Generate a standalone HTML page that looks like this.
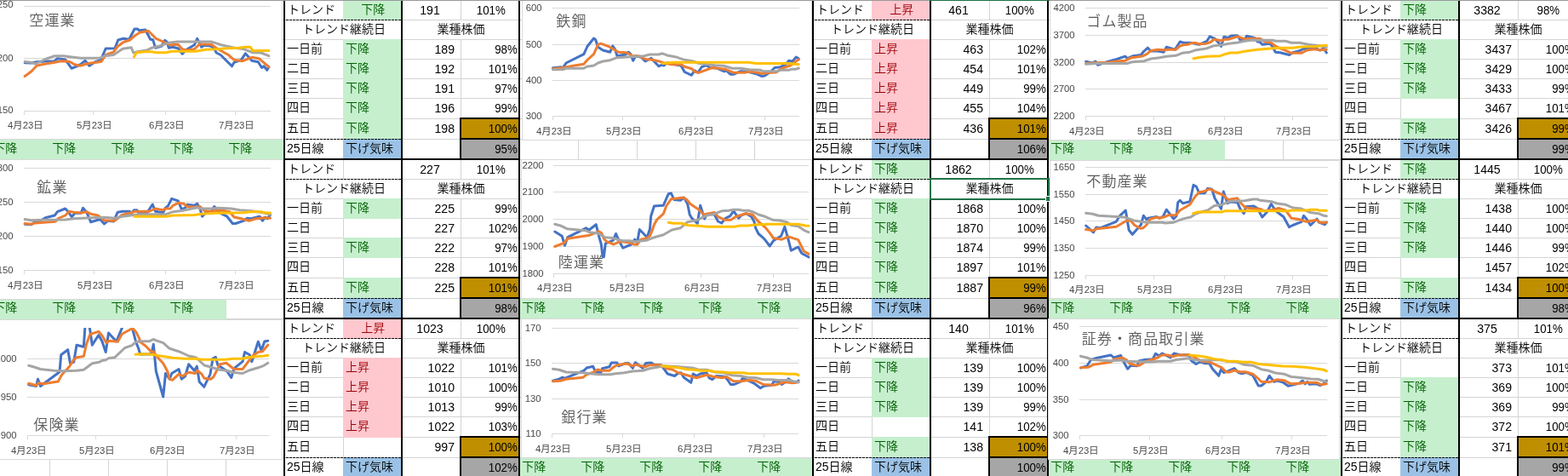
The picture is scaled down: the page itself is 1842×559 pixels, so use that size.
<!DOCTYPE html>
<html lang="ja"><head><meta charset="utf-8"><title>業種別トレンド</title>
<style>
html,body{margin:0;padding:0;background:#fff;overflow:hidden}
svg{display:block}
text{font-family:"Liberation Sans","Noto Sans CJK JP",sans-serif;white-space:pre}
.c{font-weight:350}
.h{font-weight:400}
.n{font-weight:400}
.t{font-weight:350;letter-spacing:1.1px}
</style></head><body>
<svg width="1842" height="559" viewBox="0 0 1842 559">
<g shape-rendering="crispEdges">
<rect x="0" y="0" width="1842" height="559" fill="#fff"/>
<rect x="58" y="0" width="1" height="559" fill="#d4d4d4"/>
<rect x="127" y="0" width="1" height="559" fill="#d4d4d4"/>
<rect x="196" y="0" width="1" height="559" fill="#d4d4d4"/>
<rect x="265" y="0" width="1" height="559" fill="#d4d4d4"/>
<rect x="334" y="0" width="1" height="559" fill="#d4d4d4"/>
<rect x="403" y="0" width="1" height="559" fill="#d4d4d4"/>
<rect x="472" y="0" width="1" height="559" fill="#d4d4d4"/>
<rect x="541" y="0" width="1" height="559" fill="#d4d4d4"/>
<rect x="610" y="0" width="1" height="559" fill="#d4d4d4"/>
<rect x="679" y="0" width="1" height="559" fill="#d4d4d4"/>
<rect x="748" y="0" width="1" height="559" fill="#d4d4d4"/>
<rect x="817" y="0" width="1" height="559" fill="#d4d4d4"/>
<rect x="886" y="0" width="1" height="559" fill="#d4d4d4"/>
<rect x="955" y="0" width="1" height="559" fill="#d4d4d4"/>
<rect x="1024" y="0" width="1" height="559" fill="#d4d4d4"/>
<rect x="1093" y="0" width="1" height="559" fill="#d4d4d4"/>
<rect x="1162" y="0" width="1" height="559" fill="#d4d4d4"/>
<rect x="1231" y="0" width="1" height="559" fill="#d4d4d4"/>
<rect x="1300" y="0" width="1" height="559" fill="#d4d4d4"/>
<rect x="1369" y="0" width="1" height="559" fill="#d4d4d4"/>
<rect x="1438" y="0" width="1" height="559" fill="#d4d4d4"/>
<rect x="1507" y="0" width="1" height="559" fill="#d4d4d4"/>
<rect x="1576" y="0" width="1" height="559" fill="#d4d4d4"/>
<rect x="1645" y="0" width="1" height="559" fill="#d4d4d4"/>
<rect x="1714" y="0" width="1" height="559" fill="#d4d4d4"/>
<rect x="1783" y="0" width="1" height="559" fill="#d4d4d4"/>
<rect x="0" y="23" width="1842" height="1" fill="#d4d4d4"/>
<rect x="0" y="46" width="1842" height="1" fill="#d4d4d4"/>
<rect x="0" y="69" width="1842" height="1" fill="#d4d4d4"/>
<rect x="0" y="92" width="1842" height="1" fill="#d4d4d4"/>
<rect x="0" y="115" width="1842" height="1" fill="#d4d4d4"/>
<rect x="0" y="139" width="1842" height="1" fill="#d4d4d4"/>
<rect x="0" y="163" width="1842" height="1" fill="#d4d4d4"/>
<rect x="0" y="187" width="1842" height="1" fill="#d4d4d4"/>
<rect x="0" y="210" width="1842" height="1" fill="#d4d4d4"/>
<rect x="0" y="233" width="1842" height="1" fill="#d4d4d4"/>
<rect x="0" y="256" width="1842" height="1" fill="#d4d4d4"/>
<rect x="0" y="279" width="1842" height="1" fill="#d4d4d4"/>
<rect x="0" y="302" width="1842" height="1" fill="#d4d4d4"/>
<rect x="0" y="326" width="1842" height="1" fill="#d4d4d4"/>
<rect x="0" y="350" width="1842" height="1" fill="#d4d4d4"/>
<rect x="0" y="374" width="1842" height="1" fill="#d4d4d4"/>
<rect x="0" y="397" width="1842" height="1" fill="#d4d4d4"/>
<rect x="0" y="420" width="1842" height="1" fill="#d4d4d4"/>
<rect x="0" y="443" width="1842" height="1" fill="#d4d4d4"/>
<rect x="0" y="466" width="1842" height="1" fill="#d4d4d4"/>
<rect x="0" y="489" width="1842" height="1" fill="#d4d4d4"/>
<rect x="0" y="513" width="1842" height="1" fill="#d4d4d4"/>
<rect x="0" y="537" width="1842" height="1" fill="#d4d4d4"/>
<rect x="0" y="0" width="1842" height="1" fill="#a6a6a6"/>
</g>
<g shape-rendering="crispEdges">
<rect x="-11" y="163" width="70" height="25" fill="#c6efce"/>
<rect x="58" y="163" width="70" height="25" fill="#c6efce"/>
<rect x="127" y="163" width="70" height="25" fill="#c6efce"/>
<rect x="196" y="163" width="70" height="25" fill="#c6efce"/>
<rect x="265" y="163" width="70" height="25" fill="#c6efce"/>
<rect x="1231" y="163" width="70" height="25" fill="#c6efce"/>
<rect x="1300" y="163" width="70" height="25" fill="#c6efce"/>
<rect x="1369" y="163" width="70" height="25" fill="#c6efce"/>
<rect x="-11" y="350" width="70" height="25" fill="#c6efce"/>
<rect x="58" y="350" width="70" height="25" fill="#c6efce"/>
<rect x="127" y="350" width="70" height="25" fill="#c6efce"/>
<rect x="196" y="350" width="70" height="25" fill="#c6efce"/>
<rect x="610" y="350" width="70" height="25" fill="#c6efce"/>
<rect x="679" y="350" width="70" height="25" fill="#c6efce"/>
<rect x="748" y="350" width="70" height="25" fill="#c6efce"/>
<rect x="817" y="350" width="70" height="25" fill="#c6efce"/>
<rect x="886" y="350" width="70" height="25" fill="#c6efce"/>
<rect x="1231" y="350" width="70" height="25" fill="#c6efce"/>
<rect x="1300" y="350" width="70" height="25" fill="#c6efce"/>
<rect x="1369" y="350" width="70" height="25" fill="#c6efce"/>
<rect x="1438" y="350" width="70" height="25" fill="#c6efce"/>
<rect x="1507" y="350" width="70" height="25" fill="#c6efce"/>
<rect x="610" y="537" width="70" height="25" fill="#c6efce"/>
<rect x="679" y="537" width="70" height="25" fill="#c6efce"/>
<rect x="748" y="537" width="70" height="25" fill="#c6efce"/>
<rect x="817" y="537" width="70" height="25" fill="#c6efce"/>
<rect x="886" y="537" width="70" height="25" fill="#c6efce"/>
<rect x="1231" y="537" width="70" height="25" fill="#c6efce"/>
<rect x="1300" y="537" width="70" height="25" fill="#c6efce"/>
<rect x="1369" y="537" width="70" height="25" fill="#c6efce"/>
<rect x="1438" y="537" width="70" height="25" fill="#c6efce"/>
<rect x="1507" y="537" width="70" height="25" fill="#c6efce"/>
</g>
<text class="c" x="-7.8" y="179.0" fill="#006100" font-size="14">下降</text>
<text class="c" x="61.2" y="179.0" fill="#006100" font-size="14">下降</text>
<text class="c" x="130.2" y="179.0" fill="#006100" font-size="14">下降</text>
<text class="c" x="199.2" y="179.0" fill="#006100" font-size="14">下降</text>
<text class="c" x="268.2" y="179.0" fill="#006100" font-size="14">下降</text>
<text class="c" x="1234.2" y="179.0" fill="#006100" font-size="14">下降</text>
<text class="c" x="1303.2" y="179.0" fill="#006100" font-size="14">下降</text>
<text class="c" x="1372.2" y="179.0" fill="#006100" font-size="14">下降</text>
<text class="c" x="-7.8" y="366.0" fill="#006100" font-size="14">下降</text>
<text class="c" x="61.2" y="366.0" fill="#006100" font-size="14">下降</text>
<text class="c" x="130.2" y="366.0" fill="#006100" font-size="14">下降</text>
<text class="c" x="199.2" y="366.0" fill="#006100" font-size="14">下降</text>
<text class="c" x="613.2" y="366.0" fill="#006100" font-size="14">下降</text>
<text class="c" x="682.2" y="366.0" fill="#006100" font-size="14">下降</text>
<text class="c" x="751.2" y="366.0" fill="#006100" font-size="14">下降</text>
<text class="c" x="820.2" y="366.0" fill="#006100" font-size="14">下降</text>
<text class="c" x="889.2" y="366.0" fill="#006100" font-size="14">下降</text>
<text class="c" x="1234.2" y="366.0" fill="#006100" font-size="14">下降</text>
<text class="c" x="1303.2" y="366.0" fill="#006100" font-size="14">下降</text>
<text class="c" x="1372.2" y="366.0" fill="#006100" font-size="14">下降</text>
<text class="c" x="1441.2" y="366.0" fill="#006100" font-size="14">下降</text>
<text class="c" x="1510.2" y="366.0" fill="#006100" font-size="14">下降</text>
<text class="c" x="613.2" y="553.0" fill="#006100" font-size="14">下降</text>
<text class="c" x="682.2" y="553.0" fill="#006100" font-size="14">下降</text>
<text class="c" x="751.2" y="553.0" fill="#006100" font-size="14">下降</text>
<text class="c" x="820.2" y="553.0" fill="#006100" font-size="14">下降</text>
<text class="c" x="889.2" y="553.0" fill="#006100" font-size="14">下降</text>
<text class="c" x="1234.2" y="553.0" fill="#006100" font-size="14">下降</text>
<text class="c" x="1303.2" y="553.0" fill="#006100" font-size="14">下降</text>
<text class="c" x="1372.2" y="553.0" fill="#006100" font-size="14">下降</text>
<text class="c" x="1441.2" y="553.0" fill="#006100" font-size="14">下降</text>
<text class="c" x="1510.2" y="553.0" fill="#006100" font-size="14">下降</text>
<g shape-rendering="crispEdges">
<rect x="403" y="1" width="68" height="23" fill="#c6efce"/>
<rect x="403" y="46" width="68" height="24" fill="#c6efce"/>
<rect x="403" y="69" width="68" height="24" fill="#c6efce"/>
<rect x="403" y="92" width="68" height="24" fill="#c6efce"/>
<rect x="403" y="115" width="68" height="25" fill="#c6efce"/>
<rect x="403" y="139" width="68" height="25" fill="#c6efce"/>
<rect x="403" y="163" width="68" height="25" fill="#9bc2e6"/>
<rect x="403" y="24" width="1" height="22" fill="#fff"/>
<rect x="541" y="24" width="1" height="22" fill="#fff"/>
<rect x="541" y="139" width="69" height="24" fill="#bf8f00"/>
<rect x="541" y="163" width="69" height="24" fill="#a6a6a6"/>
<rect x="540" y="138" width="70" height="2" fill="#000"/>
<rect x="540" y="162" width="70" height="2" fill="#000"/>
<rect x="540" y="138" width="2" height="50" fill="#000"/>
</g>
<line x1="336" y1="23.5" x2="471" y2="23.5" stroke="#000" stroke-width="1" stroke-dasharray="3 1" shape-rendering="crispEdges"/>
<line x1="336" y1="163.5" x2="471" y2="163.5" stroke="#000" stroke-width="1" stroke-dasharray="3 1" shape-rendering="crispEdges"/>
<g shape-rendering="crispEdges">
<rect x="1024" y="1" width="68" height="23" fill="#ffc7ce"/>
<rect x="1024" y="46" width="68" height="24" fill="#ffc7ce"/>
<rect x="1024" y="69" width="68" height="24" fill="#ffc7ce"/>
<rect x="1024" y="92" width="68" height="24" fill="#ffc7ce"/>
<rect x="1024" y="115" width="68" height="25" fill="#ffc7ce"/>
<rect x="1024" y="139" width="68" height="25" fill="#ffc7ce"/>
<rect x="1024" y="163" width="68" height="25" fill="#9bc2e6"/>
<rect x="1024" y="24" width="1" height="22" fill="#fff"/>
<rect x="1162" y="24" width="1" height="22" fill="#fff"/>
<rect x="1162" y="139" width="69" height="24" fill="#bf8f00"/>
<rect x="1162" y="163" width="69" height="24" fill="#a6a6a6"/>
<rect x="1161" y="138" width="70" height="2" fill="#000"/>
<rect x="1161" y="162" width="70" height="2" fill="#000"/>
<rect x="1161" y="138" width="2" height="50" fill="#000"/>
</g>
<line x1="957" y1="23.5" x2="1092" y2="23.5" stroke="#000" stroke-width="1" stroke-dasharray="3 1" shape-rendering="crispEdges"/>
<line x1="957" y1="163.5" x2="1092" y2="163.5" stroke="#000" stroke-width="1" stroke-dasharray="3 1" shape-rendering="crispEdges"/>
<g shape-rendering="crispEdges">
<rect x="1645" y="1" width="68" height="23" fill="#c6efce"/>
<rect x="1645" y="46" width="68" height="24" fill="#c6efce"/>
<rect x="1645" y="69" width="68" height="24" fill="#c6efce"/>
<rect x="1645" y="92" width="68" height="24" fill="#c6efce"/>
<rect x="1645" y="139" width="68" height="25" fill="#c6efce"/>
<rect x="1645" y="163" width="68" height="25" fill="#9bc2e6"/>
<rect x="1645" y="24" width="1" height="22" fill="#fff"/>
<rect x="1783" y="24" width="1" height="22" fill="#fff"/>
<rect x="1783" y="139" width="69" height="24" fill="#bf8f00"/>
<rect x="1783" y="163" width="69" height="24" fill="#a6a6a6"/>
<rect x="1782" y="138" width="70" height="2" fill="#000"/>
<rect x="1782" y="162" width="70" height="2" fill="#000"/>
<rect x="1782" y="138" width="2" height="50" fill="#000"/>
</g>
<line x1="1578" y1="23.5" x2="1713" y2="23.5" stroke="#000" stroke-width="1" stroke-dasharray="3 1" shape-rendering="crispEdges"/>
<line x1="1578" y1="163.5" x2="1713" y2="163.5" stroke="#000" stroke-width="1" stroke-dasharray="3 1" shape-rendering="crispEdges"/>
<g shape-rendering="crispEdges">
<rect x="403" y="233" width="68" height="24" fill="#c6efce"/>
<rect x="403" y="279" width="68" height="24" fill="#c6efce"/>
<rect x="403" y="326" width="68" height="25" fill="#c6efce"/>
<rect x="403" y="350" width="68" height="25" fill="#9bc2e6"/>
<rect x="403" y="211" width="1" height="22" fill="#fff"/>
<rect x="541" y="211" width="1" height="22" fill="#fff"/>
<rect x="541" y="326" width="69" height="24" fill="#bf8f00"/>
<rect x="541" y="350" width="69" height="24" fill="#a6a6a6"/>
<rect x="540" y="325" width="70" height="2" fill="#000"/>
<rect x="540" y="349" width="70" height="2" fill="#000"/>
<rect x="540" y="325" width="2" height="50" fill="#000"/>
</g>
<line x1="336" y1="210.5" x2="471" y2="210.5" stroke="#000" stroke-width="1" stroke-dasharray="3 1" shape-rendering="crispEdges"/>
<line x1="336" y1="350.5" x2="471" y2="350.5" stroke="#000" stroke-width="1" stroke-dasharray="3 1" shape-rendering="crispEdges"/>
<g shape-rendering="crispEdges">
<rect x="1024" y="188" width="68" height="23" fill="#c6efce"/>
<rect x="1024" y="233" width="68" height="24" fill="#c6efce"/>
<rect x="1024" y="256" width="68" height="24" fill="#c6efce"/>
<rect x="1024" y="279" width="68" height="24" fill="#c6efce"/>
<rect x="1024" y="302" width="68" height="25" fill="#c6efce"/>
<rect x="1024" y="326" width="68" height="25" fill="#c6efce"/>
<rect x="1024" y="350" width="68" height="25" fill="#9bc2e6"/>
<rect x="1024" y="211" width="1" height="22" fill="#fff"/>
<rect x="1162" y="211" width="1" height="22" fill="#fff"/>
<rect x="1162" y="326" width="69" height="24" fill="#bf8f00"/>
<rect x="1162" y="350" width="69" height="24" fill="#a6a6a6"/>
<rect x="1161" y="325" width="70" height="2" fill="#000"/>
<rect x="1161" y="349" width="70" height="2" fill="#000"/>
<rect x="1161" y="325" width="2" height="50" fill="#000"/>
</g>
<line x1="957" y1="210.5" x2="1092" y2="210.5" stroke="#000" stroke-width="1" stroke-dasharray="3 1" shape-rendering="crispEdges"/>
<line x1="957" y1="350.5" x2="1092" y2="350.5" stroke="#000" stroke-width="1" stroke-dasharray="3 1" shape-rendering="crispEdges"/>
<g shape-rendering="crispEdges">
<rect x="1645" y="188" width="68" height="23" fill="#c6efce"/>
<rect x="1645" y="233" width="68" height="24" fill="#c6efce"/>
<rect x="1645" y="256" width="68" height="24" fill="#c6efce"/>
<rect x="1645" y="279" width="68" height="24" fill="#c6efce"/>
<rect x="1645" y="326" width="68" height="25" fill="#c6efce"/>
<rect x="1645" y="350" width="68" height="25" fill="#9bc2e6"/>
<rect x="1645" y="211" width="1" height="22" fill="#fff"/>
<rect x="1783" y="211" width="1" height="22" fill="#fff"/>
<rect x="1783" y="326" width="69" height="24" fill="#bf8f00"/>
<rect x="1783" y="350" width="69" height="24" fill="#a6a6a6"/>
<rect x="1782" y="325" width="70" height="2" fill="#000"/>
<rect x="1782" y="349" width="70" height="2" fill="#000"/>
<rect x="1782" y="325" width="2" height="50" fill="#000"/>
</g>
<line x1="1578" y1="210.5" x2="1713" y2="210.5" stroke="#000" stroke-width="1" stroke-dasharray="3 1" shape-rendering="crispEdges"/>
<line x1="1578" y1="350.5" x2="1713" y2="350.5" stroke="#000" stroke-width="1" stroke-dasharray="3 1" shape-rendering="crispEdges"/>
<g shape-rendering="crispEdges">
<rect x="403" y="375" width="68" height="23" fill="#ffc7ce"/>
<rect x="403" y="420" width="68" height="24" fill="#ffc7ce"/>
<rect x="403" y="443" width="68" height="24" fill="#ffc7ce"/>
<rect x="403" y="466" width="68" height="24" fill="#ffc7ce"/>
<rect x="403" y="489" width="68" height="25" fill="#ffc7ce"/>
<rect x="403" y="537" width="68" height="25" fill="#9bc2e6"/>
<rect x="403" y="398" width="1" height="22" fill="#fff"/>
<rect x="541" y="398" width="1" height="22" fill="#fff"/>
<rect x="541" y="513" width="69" height="24" fill="#bf8f00"/>
<rect x="541" y="537" width="69" height="24" fill="#a6a6a6"/>
<rect x="540" y="512" width="70" height="2" fill="#000"/>
<rect x="540" y="536" width="70" height="2" fill="#000"/>
<rect x="540" y="512" width="2" height="50" fill="#000"/>
</g>
<line x1="336" y1="397.5" x2="471" y2="397.5" stroke="#000" stroke-width="1" stroke-dasharray="3 1" shape-rendering="crispEdges"/>
<line x1="336" y1="537.5" x2="471" y2="537.5" stroke="#000" stroke-width="1" stroke-dasharray="3 1" shape-rendering="crispEdges"/>
<g shape-rendering="crispEdges">
<rect x="1024" y="420" width="68" height="24" fill="#c6efce"/>
<rect x="1024" y="443" width="68" height="24" fill="#c6efce"/>
<rect x="1024" y="466" width="68" height="24" fill="#c6efce"/>
<rect x="1024" y="513" width="68" height="25" fill="#c6efce"/>
<rect x="1024" y="537" width="68" height="25" fill="#9bc2e6"/>
<rect x="1024" y="398" width="1" height="22" fill="#fff"/>
<rect x="1162" y="398" width="1" height="22" fill="#fff"/>
<rect x="1162" y="513" width="69" height="24" fill="#bf8f00"/>
<rect x="1162" y="537" width="69" height="24" fill="#a6a6a6"/>
<rect x="1161" y="512" width="70" height="2" fill="#000"/>
<rect x="1161" y="536" width="70" height="2" fill="#000"/>
<rect x="1161" y="512" width="2" height="50" fill="#000"/>
</g>
<line x1="957" y1="397.5" x2="1092" y2="397.5" stroke="#000" stroke-width="1" stroke-dasharray="3 1" shape-rendering="crispEdges"/>
<line x1="957" y1="537.5" x2="1092" y2="537.5" stroke="#000" stroke-width="1" stroke-dasharray="3 1" shape-rendering="crispEdges"/>
<g shape-rendering="crispEdges">
<rect x="1645" y="443" width="68" height="24" fill="#c6efce"/>
<rect x="1645" y="466" width="68" height="24" fill="#c6efce"/>
<rect x="1645" y="489" width="68" height="25" fill="#c6efce"/>
<rect x="1645" y="513" width="68" height="25" fill="#c6efce"/>
<rect x="1645" y="537" width="68" height="25" fill="#9bc2e6"/>
<rect x="1645" y="398" width="1" height="22" fill="#fff"/>
<rect x="1783" y="398" width="1" height="22" fill="#fff"/>
<rect x="1783" y="513" width="69" height="24" fill="#bf8f00"/>
<rect x="1783" y="537" width="69" height="24" fill="#a6a6a6"/>
<rect x="1782" y="512" width="70" height="2" fill="#000"/>
<rect x="1782" y="536" width="70" height="2" fill="#000"/>
<rect x="1782" y="512" width="2" height="50" fill="#000"/>
</g>
<line x1="1578" y1="397.5" x2="1713" y2="397.5" stroke="#000" stroke-width="1" stroke-dasharray="3 1" shape-rendering="crispEdges"/>
<line x1="1578" y1="537.5" x2="1713" y2="537.5" stroke="#000" stroke-width="1" stroke-dasharray="3 1" shape-rendering="crispEdges"/>
<g shape-rendering="crispEdges">
<rect x="333" y="1" width="2" height="559" fill="#000"/>
<rect x="471" y="1" width="2" height="559" fill="#000"/>
<rect x="609" y="1" width="2" height="559" fill="#000"/>
<rect x="333" y="186" width="278" height="2" fill="#000"/>
<rect x="333" y="373" width="278" height="2" fill="#000"/>
<rect x="333" y="560" width="278" height="2" fill="#000"/>
<rect x="954" y="1" width="2" height="559" fill="#000"/>
<rect x="1092" y="1" width="2" height="559" fill="#000"/>
<rect x="1230" y="1" width="2" height="559" fill="#000"/>
<rect x="954" y="186" width="278" height="2" fill="#000"/>
<rect x="954" y="373" width="278" height="2" fill="#000"/>
<rect x="954" y="560" width="278" height="2" fill="#000"/>
<rect x="1575" y="1" width="2" height="559" fill="#000"/>
<rect x="1713" y="1" width="2" height="559" fill="#000"/>
<rect x="1851" y="1" width="2" height="559" fill="#000"/>
<rect x="1575" y="186" width="278" height="2" fill="#000"/>
<rect x="1575" y="373" width="278" height="2" fill="#000"/>
<rect x="1575" y="560" width="278" height="2" fill="#000"/>
</g>
<text class="c" x="338" y="15.8" fill="#000" font-size="14">トレンド</text>
<text class="c" x="438.2" y="15.8" text-anchor="middle" fill="#006100" font-size="14">下降</text>
<text class="n" transform="translate(505.0 16.7) scale(1.01 1.06)" text-anchor="middle" fill="#000" font-size="14">191</text>
<text class="n" transform="translate(576.8 16.7) scale(0.95 1.06)" text-anchor="middle" fill="#000" font-size="14">101%</text>
<text class="c" x="404.0" y="38.8" text-anchor="middle" fill="#000" font-size="14">トレンド継続日</text>
<text class="c" x="541.5" y="38.8" text-anchor="middle" fill="#000" font-size="14">業種株価</text>
<text class="c" x="337" y="61.8" fill="#000" font-size="14">一日前</text>
<text class="c" x="406" y="61.8" fill="#006100" font-size="14">下降</text>
<text class="n" transform="translate(534 62.7) scale(1.01 1.06)" text-anchor="end" fill="#000" font-size="14">189</text>
<text class="n" transform="translate(607.8 62.7) scale(0.95 1.06)" text-anchor="end" fill="#000" font-size="14">98%</text>
<text class="c" x="337" y="84.8" fill="#000" font-size="14">二日</text>
<text class="c" x="406" y="84.8" fill="#006100" font-size="14">下降</text>
<text class="n" transform="translate(534 85.7) scale(1.01 1.06)" text-anchor="end" fill="#000" font-size="14">192</text>
<text class="n" transform="translate(607.8 85.7) scale(0.95 1.06)" text-anchor="end" fill="#000" font-size="14">101%</text>
<text class="c" x="337" y="107.8" fill="#000" font-size="14">三日</text>
<text class="c" x="406" y="107.8" fill="#006100" font-size="14">下降</text>
<text class="n" transform="translate(534 108.7) scale(1.01 1.06)" text-anchor="end" fill="#000" font-size="14">191</text>
<text class="n" transform="translate(607.8 108.7) scale(0.95 1.06)" text-anchor="end" fill="#000" font-size="14">97%</text>
<text class="c" x="337" y="131.0" fill="#000" font-size="14">四日</text>
<text class="c" x="406" y="131.0" fill="#006100" font-size="14">下降</text>
<text class="n" transform="translate(534 132.0) scale(1.01 1.06)" text-anchor="end" fill="#000" font-size="14">196</text>
<text class="n" transform="translate(607.8 132.0) scale(0.95 1.06)" text-anchor="end" fill="#000" font-size="14">99%</text>
<text class="c" x="337" y="155.0" fill="#000" font-size="14">五日</text>
<text class="c" x="406" y="155.0" fill="#006100" font-size="14">下降</text>
<text class="n" transform="translate(534 156.0) scale(1.01 1.06)" text-anchor="end" fill="#000" font-size="14">198</text>
<text class="n" transform="translate(607.8 156.0) scale(0.95 1.06)" text-anchor="end" fill="#000" font-size="14">100%</text>
<text class="c" x="337" y="179.0" fill="#000" font-size="14">25日線</text>
<text class="c" x="406" y="179.0" fill="#000" font-size="14">下げ気味</text>
<text class="n" transform="translate(607.8 180.0) scale(0.95 1.06)" text-anchor="end" fill="#000" font-size="14">95%</text>
<text class="c" x="959" y="15.8" fill="#000" font-size="14">トレンド</text>
<text class="c" x="1059.2" y="15.8" text-anchor="middle" fill="#9c0006" font-size="14">上昇</text>
<text class="n" transform="translate(1126.0 16.7) scale(1.01 1.06)" text-anchor="middle" fill="#000" font-size="14">461</text>
<text class="n" transform="translate(1197.8 16.7) scale(0.95 1.06)" text-anchor="middle" fill="#000" font-size="14">100%</text>
<text class="c" x="1025.0" y="38.8" text-anchor="middle" fill="#000" font-size="14">トレンド継続日</text>
<text class="c" x="1162.5" y="38.8" text-anchor="middle" fill="#000" font-size="14">業種株価</text>
<text class="c" x="958" y="61.8" fill="#000" font-size="14">一日前</text>
<text class="c" x="1027" y="61.8" fill="#9c0006" font-size="14">上昇</text>
<text class="n" transform="translate(1155 62.7) scale(1.01 1.06)" text-anchor="end" fill="#000" font-size="14">463</text>
<text class="n" transform="translate(1228.8 62.7) scale(0.95 1.06)" text-anchor="end" fill="#000" font-size="14">102%</text>
<text class="c" x="958" y="84.8" fill="#000" font-size="14">二日</text>
<text class="c" x="1027" y="84.8" fill="#9c0006" font-size="14">上昇</text>
<text class="n" transform="translate(1155 85.7) scale(1.01 1.06)" text-anchor="end" fill="#000" font-size="14">454</text>
<text class="n" transform="translate(1228.8 85.7) scale(0.95 1.06)" text-anchor="end" fill="#000" font-size="14">101%</text>
<text class="c" x="958" y="107.8" fill="#000" font-size="14">三日</text>
<text class="c" x="1027" y="107.8" fill="#9c0006" font-size="14">上昇</text>
<text class="n" transform="translate(1155 108.7) scale(1.01 1.06)" text-anchor="end" fill="#000" font-size="14">449</text>
<text class="n" transform="translate(1228.8 108.7) scale(0.95 1.06)" text-anchor="end" fill="#000" font-size="14">99%</text>
<text class="c" x="958" y="131.0" fill="#000" font-size="14">四日</text>
<text class="c" x="1027" y="131.0" fill="#9c0006" font-size="14">上昇</text>
<text class="n" transform="translate(1155 132.0) scale(1.01 1.06)" text-anchor="end" fill="#000" font-size="14">455</text>
<text class="n" transform="translate(1228.8 132.0) scale(0.95 1.06)" text-anchor="end" fill="#000" font-size="14">104%</text>
<text class="c" x="958" y="155.0" fill="#000" font-size="14">五日</text>
<text class="c" x="1027" y="155.0" fill="#9c0006" font-size="14">上昇</text>
<text class="n" transform="translate(1155 156.0) scale(1.01 1.06)" text-anchor="end" fill="#000" font-size="14">436</text>
<text class="n" transform="translate(1228.8 156.0) scale(0.95 1.06)" text-anchor="end" fill="#000" font-size="14">101%</text>
<text class="c" x="958" y="179.0" fill="#000" font-size="14">25日線</text>
<text class="c" x="1027" y="179.0" fill="#000" font-size="14">下げ気味</text>
<text class="n" transform="translate(1228.8 180.0) scale(0.95 1.06)" text-anchor="end" fill="#000" font-size="14">106%</text>
<text class="c" x="1580" y="15.8" fill="#000" font-size="14">トレンド</text>
<text class="c" x="1648" y="15.8" fill="#006100" font-size="14">下降</text>
<text class="n" transform="translate(1747.0 16.7) scale(1.01 1.06)" text-anchor="middle" fill="#000" font-size="14">3382</text>
<text class="n" transform="translate(1818.8 16.7) scale(0.95 1.06)" text-anchor="middle" fill="#000" font-size="14">98%</text>
<text class="c" x="1646.0" y="38.8" text-anchor="middle" fill="#000" font-size="14">トレンド継続日</text>
<text class="c" x="1783.5" y="38.8" text-anchor="middle" fill="#000" font-size="14">業種株価</text>
<text class="c" x="1579" y="61.8" fill="#000" font-size="14">一日前</text>
<text class="c" x="1648" y="61.8" fill="#006100" font-size="14">下降</text>
<text class="n" transform="translate(1776 62.7) scale(1.01 1.06)" text-anchor="end" fill="#000" font-size="14">3437</text>
<text class="n" transform="translate(1849.8 62.7) scale(0.95 1.06)" text-anchor="end" fill="#000" font-size="14">100%</text>
<text class="c" x="1579" y="84.8" fill="#000" font-size="14">二日</text>
<text class="c" x="1648" y="84.8" fill="#006100" font-size="14">下降</text>
<text class="n" transform="translate(1776 85.7) scale(1.01 1.06)" text-anchor="end" fill="#000" font-size="14">3429</text>
<text class="n" transform="translate(1849.8 85.7) scale(0.95 1.06)" text-anchor="end" fill="#000" font-size="14">100%</text>
<text class="c" x="1579" y="107.8" fill="#000" font-size="14">三日</text>
<text class="c" x="1648" y="107.8" fill="#006100" font-size="14">下降</text>
<text class="n" transform="translate(1776 108.7) scale(1.01 1.06)" text-anchor="end" fill="#000" font-size="14">3433</text>
<text class="n" transform="translate(1849.8 108.7) scale(0.95 1.06)" text-anchor="end" fill="#000" font-size="14">99%</text>
<text class="c" x="1579" y="131.0" fill="#000" font-size="14">四日</text>
<text class="n" transform="translate(1776 132.0) scale(1.01 1.06)" text-anchor="end" fill="#000" font-size="14">3467</text>
<text class="n" transform="translate(1849.8 132.0) scale(0.95 1.06)" text-anchor="end" fill="#000" font-size="14">101%</text>
<text class="c" x="1579" y="155.0" fill="#000" font-size="14">五日</text>
<text class="c" x="1648" y="155.0" fill="#006100" font-size="14">下降</text>
<text class="n" transform="translate(1776 156.0) scale(1.01 1.06)" text-anchor="end" fill="#000" font-size="14">3426</text>
<text class="n" transform="translate(1849.8 156.0) scale(0.95 1.06)" text-anchor="end" fill="#000" font-size="14">99%</text>
<text class="c" x="1579" y="179.0" fill="#000" font-size="14">25日線</text>
<text class="c" x="1648" y="179.0" fill="#000" font-size="14">下げ気味</text>
<text class="n" transform="translate(1849.8 180.0) scale(0.95 1.06)" text-anchor="end" fill="#000" font-size="14">99%</text>
<text class="c" x="338" y="202.8" fill="#000" font-size="14">トレンド</text>
<text class="n" transform="translate(505.0 203.7) scale(1.01 1.06)" text-anchor="middle" fill="#000" font-size="14">227</text>
<text class="n" transform="translate(576.8 203.7) scale(0.95 1.06)" text-anchor="middle" fill="#000" font-size="14">101%</text>
<text class="c" x="404.0" y="225.8" text-anchor="middle" fill="#000" font-size="14">トレンド継続日</text>
<text class="c" x="541.5" y="225.8" text-anchor="middle" fill="#000" font-size="14">業種株価</text>
<text class="c" x="337" y="248.8" fill="#000" font-size="14">一日前</text>
<text class="c" x="406" y="248.8" fill="#006100" font-size="14">下降</text>
<text class="n" transform="translate(534 249.7) scale(1.01 1.06)" text-anchor="end" fill="#000" font-size="14">225</text>
<text class="n" transform="translate(607.8 249.7) scale(0.95 1.06)" text-anchor="end" fill="#000" font-size="14">99%</text>
<text class="c" x="337" y="271.8" fill="#000" font-size="14">二日</text>
<text class="n" transform="translate(534 272.7) scale(1.01 1.06)" text-anchor="end" fill="#000" font-size="14">227</text>
<text class="n" transform="translate(607.8 272.7) scale(0.95 1.06)" text-anchor="end" fill="#000" font-size="14">102%</text>
<text class="c" x="337" y="294.8" fill="#000" font-size="14">三日</text>
<text class="c" x="406" y="294.8" fill="#006100" font-size="14">下降</text>
<text class="n" transform="translate(534 295.7) scale(1.01 1.06)" text-anchor="end" fill="#000" font-size="14">222</text>
<text class="n" transform="translate(607.8 295.7) scale(0.95 1.06)" text-anchor="end" fill="#000" font-size="14">97%</text>
<text class="c" x="337" y="318.0" fill="#000" font-size="14">四日</text>
<text class="n" transform="translate(534 319.0) scale(1.01 1.06)" text-anchor="end" fill="#000" font-size="14">228</text>
<text class="n" transform="translate(607.8 319.0) scale(0.95 1.06)" text-anchor="end" fill="#000" font-size="14">101%</text>
<text class="c" x="337" y="342.0" fill="#000" font-size="14">五日</text>
<text class="c" x="406" y="342.0" fill="#006100" font-size="14">下降</text>
<text class="n" transform="translate(534 343.0) scale(1.01 1.06)" text-anchor="end" fill="#000" font-size="14">225</text>
<text class="n" transform="translate(607.8 343.0) scale(0.95 1.06)" text-anchor="end" fill="#000" font-size="14">101%</text>
<text class="c" x="337" y="366.0" fill="#000" font-size="14">25日線</text>
<text class="c" x="406" y="366.0" fill="#000" font-size="14">下げ気味</text>
<text class="n" transform="translate(607.8 367.0) scale(0.95 1.06)" text-anchor="end" fill="#000" font-size="14">98%</text>
<text class="c" x="959" y="202.8" fill="#000" font-size="14">トレンド</text>
<text class="c" x="1027" y="202.8" fill="#006100" font-size="14">下降</text>
<text class="n" transform="translate(1126.0 203.7) scale(1.01 1.06)" text-anchor="middle" fill="#000" font-size="14">1862</text>
<text class="n" transform="translate(1197.8 203.7) scale(0.95 1.06)" text-anchor="middle" fill="#000" font-size="14">100%</text>
<text class="c" x="1025.0" y="225.8" text-anchor="middle" fill="#000" font-size="14">トレンド継続日</text>
<text class="c" x="1162.5" y="225.8" text-anchor="middle" fill="#000" font-size="14">業種株価</text>
<text class="c" x="958" y="248.8" fill="#000" font-size="14">一日前</text>
<text class="c" x="1027" y="248.8" fill="#006100" font-size="14">下降</text>
<text class="n" transform="translate(1155 249.7) scale(1.01 1.06)" text-anchor="end" fill="#000" font-size="14">1868</text>
<text class="n" transform="translate(1228.8 249.7) scale(0.95 1.06)" text-anchor="end" fill="#000" font-size="14">100%</text>
<text class="c" x="958" y="271.8" fill="#000" font-size="14">二日</text>
<text class="c" x="1027" y="271.8" fill="#006100" font-size="14">下降</text>
<text class="n" transform="translate(1155 272.7) scale(1.01 1.06)" text-anchor="end" fill="#000" font-size="14">1870</text>
<text class="n" transform="translate(1228.8 272.7) scale(0.95 1.06)" text-anchor="end" fill="#000" font-size="14">100%</text>
<text class="c" x="958" y="294.8" fill="#000" font-size="14">三日</text>
<text class="c" x="1027" y="294.8" fill="#006100" font-size="14">下降</text>
<text class="n" transform="translate(1155 295.7) scale(1.01 1.06)" text-anchor="end" fill="#000" font-size="14">1874</text>
<text class="n" transform="translate(1228.8 295.7) scale(0.95 1.06)" text-anchor="end" fill="#000" font-size="14">99%</text>
<text class="c" x="958" y="318.0" fill="#000" font-size="14">四日</text>
<text class="c" x="1027" y="318.0" fill="#006100" font-size="14">下降</text>
<text class="n" transform="translate(1155 319.0) scale(1.01 1.06)" text-anchor="end" fill="#000" font-size="14">1897</text>
<text class="n" transform="translate(1228.8 319.0) scale(0.95 1.06)" text-anchor="end" fill="#000" font-size="14">101%</text>
<text class="c" x="958" y="342.0" fill="#000" font-size="14">五日</text>
<text class="c" x="1027" y="342.0" fill="#006100" font-size="14">下降</text>
<text class="n" transform="translate(1155 343.0) scale(1.01 1.06)" text-anchor="end" fill="#000" font-size="14">1887</text>
<text class="n" transform="translate(1228.8 343.0) scale(0.95 1.06)" text-anchor="end" fill="#000" font-size="14">99%</text>
<text class="c" x="958" y="366.0" fill="#000" font-size="14">25日線</text>
<text class="c" x="1027" y="366.0" fill="#000" font-size="14">下げ気味</text>
<text class="n" transform="translate(1228.8 367.0) scale(0.95 1.06)" text-anchor="end" fill="#000" font-size="14">96%</text>
<text class="c" x="1580" y="202.8" fill="#000" font-size="14">トレンド</text>
<text class="c" x="1648" y="202.8" fill="#006100" font-size="14">下降</text>
<text class="n" transform="translate(1747.0 203.7) scale(1.01 1.06)" text-anchor="middle" fill="#000" font-size="14">1445</text>
<text class="n" transform="translate(1818.8 203.7) scale(0.95 1.06)" text-anchor="middle" fill="#000" font-size="14">100%</text>
<text class="c" x="1646.0" y="225.8" text-anchor="middle" fill="#000" font-size="14">トレンド継続日</text>
<text class="c" x="1783.5" y="225.8" text-anchor="middle" fill="#000" font-size="14">業種株価</text>
<text class="c" x="1579" y="248.8" fill="#000" font-size="14">一日前</text>
<text class="c" x="1648" y="248.8" fill="#006100" font-size="14">下降</text>
<text class="n" transform="translate(1776 249.7) scale(1.01 1.06)" text-anchor="end" fill="#000" font-size="14">1438</text>
<text class="n" transform="translate(1849.8 249.7) scale(0.95 1.06)" text-anchor="end" fill="#000" font-size="14">100%</text>
<text class="c" x="1579" y="271.8" fill="#000" font-size="14">二日</text>
<text class="c" x="1648" y="271.8" fill="#006100" font-size="14">下降</text>
<text class="n" transform="translate(1776 272.7) scale(1.01 1.06)" text-anchor="end" fill="#000" font-size="14">1440</text>
<text class="n" transform="translate(1849.8 272.7) scale(0.95 1.06)" text-anchor="end" fill="#000" font-size="14">100%</text>
<text class="c" x="1579" y="294.8" fill="#000" font-size="14">三日</text>
<text class="c" x="1648" y="294.8" fill="#006100" font-size="14">下降</text>
<text class="n" transform="translate(1776 295.7) scale(1.01 1.06)" text-anchor="end" fill="#000" font-size="14">1446</text>
<text class="n" transform="translate(1849.8 295.7) scale(0.95 1.06)" text-anchor="end" fill="#000" font-size="14">99%</text>
<text class="c" x="1579" y="318.0" fill="#000" font-size="14">四日</text>
<text class="n" transform="translate(1776 319.0) scale(1.01 1.06)" text-anchor="end" fill="#000" font-size="14">1457</text>
<text class="n" transform="translate(1849.8 319.0) scale(0.95 1.06)" text-anchor="end" fill="#000" font-size="14">102%</text>
<text class="c" x="1579" y="342.0" fill="#000" font-size="14">五日</text>
<text class="c" x="1648" y="342.0" fill="#006100" font-size="14">下降</text>
<text class="n" transform="translate(1776 343.0) scale(1.01 1.06)" text-anchor="end" fill="#000" font-size="14">1434</text>
<text class="n" transform="translate(1849.8 343.0) scale(0.95 1.06)" text-anchor="end" fill="#000" font-size="14">100%</text>
<text class="c" x="1579" y="366.0" fill="#000" font-size="14">25日線</text>
<text class="c" x="1648" y="366.0" fill="#000" font-size="14">下げ気味</text>
<text class="n" transform="translate(1849.8 367.0) scale(0.95 1.06)" text-anchor="end" fill="#000" font-size="14">98%</text>
<text class="c" x="338" y="389.8" fill="#000" font-size="14">トレンド</text>
<text class="c" x="438.2" y="389.8" text-anchor="middle" fill="#9c0006" font-size="14">上昇</text>
<text class="n" transform="translate(505.0 390.7) scale(1.01 1.06)" text-anchor="middle" fill="#000" font-size="14">1023</text>
<text class="n" transform="translate(576.8 390.7) scale(0.95 1.06)" text-anchor="middle" fill="#000" font-size="14">100%</text>
<text class="c" x="404.0" y="412.8" text-anchor="middle" fill="#000" font-size="14">トレンド継続日</text>
<text class="c" x="541.5" y="412.8" text-anchor="middle" fill="#000" font-size="14">業種株価</text>
<text class="c" x="337" y="435.8" fill="#000" font-size="14">一日前</text>
<text class="c" x="406" y="435.8" fill="#9c0006" font-size="14">上昇</text>
<text class="n" transform="translate(534 436.7) scale(1.01 1.06)" text-anchor="end" fill="#000" font-size="14">1022</text>
<text class="n" transform="translate(607.8 436.7) scale(0.95 1.06)" text-anchor="end" fill="#000" font-size="14">101%</text>
<text class="c" x="337" y="458.8" fill="#000" font-size="14">二日</text>
<text class="c" x="406" y="458.8" fill="#9c0006" font-size="14">上昇</text>
<text class="n" transform="translate(534 459.7) scale(1.01 1.06)" text-anchor="end" fill="#000" font-size="14">1010</text>
<text class="n" transform="translate(607.8 459.7) scale(0.95 1.06)" text-anchor="end" fill="#000" font-size="14">100%</text>
<text class="c" x="337" y="481.8" fill="#000" font-size="14">三日</text>
<text class="c" x="406" y="481.8" fill="#9c0006" font-size="14">上昇</text>
<text class="n" transform="translate(534 482.7) scale(1.01 1.06)" text-anchor="end" fill="#000" font-size="14">1013</text>
<text class="n" transform="translate(607.8 482.7) scale(0.95 1.06)" text-anchor="end" fill="#000" font-size="14">99%</text>
<text class="c" x="337" y="505.0" fill="#000" font-size="14">四日</text>
<text class="c" x="406" y="505.0" fill="#9c0006" font-size="14">上昇</text>
<text class="n" transform="translate(534 506.0) scale(1.01 1.06)" text-anchor="end" fill="#000" font-size="14">1022</text>
<text class="n" transform="translate(607.8 506.0) scale(0.95 1.06)" text-anchor="end" fill="#000" font-size="14">103%</text>
<text class="c" x="337" y="529.0" fill="#000" font-size="14">五日</text>
<text class="n" transform="translate(534 530.0) scale(1.01 1.06)" text-anchor="end" fill="#000" font-size="14">997</text>
<text class="n" transform="translate(607.8 530.0) scale(0.95 1.06)" text-anchor="end" fill="#000" font-size="14">100%</text>
<text class="c" x="337" y="553.0" fill="#000" font-size="14">25日線</text>
<text class="c" x="406" y="553.0" fill="#000" font-size="14">下げ気味</text>
<text class="n" transform="translate(607.8 554.0) scale(0.95 1.06)" text-anchor="end" fill="#000" font-size="14">102%</text>
<text class="c" x="959" y="389.8" fill="#000" font-size="14">トレンド</text>
<text class="n" transform="translate(1126.0 390.7) scale(1.01 1.06)" text-anchor="middle" fill="#000" font-size="14">140</text>
<text class="n" transform="translate(1197.8 390.7) scale(0.95 1.06)" text-anchor="middle" fill="#000" font-size="14">101%</text>
<text class="c" x="1025.0" y="412.8" text-anchor="middle" fill="#000" font-size="14">トレンド継続日</text>
<text class="c" x="1162.5" y="412.8" text-anchor="middle" fill="#000" font-size="14">業種株価</text>
<text class="c" x="958" y="435.8" fill="#000" font-size="14">一日前</text>
<text class="c" x="1027" y="435.8" fill="#006100" font-size="14">下降</text>
<text class="n" transform="translate(1155 436.7) scale(1.01 1.06)" text-anchor="end" fill="#000" font-size="14">139</text>
<text class="n" transform="translate(1228.8 436.7) scale(0.95 1.06)" text-anchor="end" fill="#000" font-size="14">100%</text>
<text class="c" x="958" y="458.8" fill="#000" font-size="14">二日</text>
<text class="c" x="1027" y="458.8" fill="#006100" font-size="14">下降</text>
<text class="n" transform="translate(1155 459.7) scale(1.01 1.06)" text-anchor="end" fill="#000" font-size="14">139</text>
<text class="n" transform="translate(1228.8 459.7) scale(0.95 1.06)" text-anchor="end" fill="#000" font-size="14">100%</text>
<text class="c" x="958" y="481.8" fill="#000" font-size="14">三日</text>
<text class="c" x="1027" y="481.8" fill="#006100" font-size="14">下降</text>
<text class="n" transform="translate(1155 482.7) scale(1.01 1.06)" text-anchor="end" fill="#000" font-size="14">139</text>
<text class="n" transform="translate(1228.8 482.7) scale(0.95 1.06)" text-anchor="end" fill="#000" font-size="14">99%</text>
<text class="c" x="958" y="505.0" fill="#000" font-size="14">四日</text>
<text class="n" transform="translate(1155 506.0) scale(1.01 1.06)" text-anchor="end" fill="#000" font-size="14">141</text>
<text class="n" transform="translate(1228.8 506.0) scale(0.95 1.06)" text-anchor="end" fill="#000" font-size="14">102%</text>
<text class="c" x="958" y="529.0" fill="#000" font-size="14">五日</text>
<text class="c" x="1027" y="529.0" fill="#006100" font-size="14">下降</text>
<text class="n" transform="translate(1155 530.0) scale(1.01 1.06)" text-anchor="end" fill="#000" font-size="14">138</text>
<text class="n" transform="translate(1228.8 530.0) scale(0.95 1.06)" text-anchor="end" fill="#000" font-size="14">100%</text>
<text class="c" x="958" y="553.0" fill="#000" font-size="14">25日線</text>
<text class="c" x="1027" y="553.0" fill="#000" font-size="14">下げ気味</text>
<text class="n" transform="translate(1228.8 554.0) scale(0.95 1.06)" text-anchor="end" fill="#000" font-size="14">100%</text>
<text class="c" x="1580" y="389.8" fill="#000" font-size="14">トレンド</text>
<text class="n" transform="translate(1747.0 390.7) scale(1.01 1.06)" text-anchor="middle" fill="#000" font-size="14">375</text>
<text class="n" transform="translate(1818.8 390.7) scale(0.95 1.06)" text-anchor="middle" fill="#000" font-size="14">101%</text>
<text class="c" x="1646.0" y="412.8" text-anchor="middle" fill="#000" font-size="14">トレンド継続日</text>
<text class="c" x="1783.5" y="412.8" text-anchor="middle" fill="#000" font-size="14">業種株価</text>
<text class="c" x="1579" y="435.8" fill="#000" font-size="14">一日前</text>
<text class="n" transform="translate(1776 436.7) scale(1.01 1.06)" text-anchor="end" fill="#000" font-size="14">373</text>
<text class="n" transform="translate(1849.8 436.7) scale(0.95 1.06)" text-anchor="end" fill="#000" font-size="14">101%</text>
<text class="c" x="1579" y="458.8" fill="#000" font-size="14">二日</text>
<text class="c" x="1648" y="458.8" fill="#006100" font-size="14">下降</text>
<text class="n" transform="translate(1776 459.7) scale(1.01 1.06)" text-anchor="end" fill="#000" font-size="14">369</text>
<text class="n" transform="translate(1849.8 459.7) scale(0.95 1.06)" text-anchor="end" fill="#000" font-size="14">100%</text>
<text class="c" x="1579" y="481.8" fill="#000" font-size="14">三日</text>
<text class="c" x="1648" y="481.8" fill="#006100" font-size="14">下降</text>
<text class="n" transform="translate(1776 482.7) scale(1.01 1.06)" text-anchor="end" fill="#000" font-size="14">369</text>
<text class="n" transform="translate(1849.8 482.7) scale(0.95 1.06)" text-anchor="end" fill="#000" font-size="14">99%</text>
<text class="c" x="1579" y="505.0" fill="#000" font-size="14">四日</text>
<text class="c" x="1648" y="505.0" fill="#006100" font-size="14">下降</text>
<text class="n" transform="translate(1776 506.0) scale(1.01 1.06)" text-anchor="end" fill="#000" font-size="14">372</text>
<text class="n" transform="translate(1849.8 506.0) scale(0.95 1.06)" text-anchor="end" fill="#000" font-size="14">100%</text>
<text class="c" x="1579" y="529.0" fill="#000" font-size="14">五日</text>
<text class="c" x="1648" y="529.0" fill="#006100" font-size="14">下降</text>
<text class="n" transform="translate(1776 530.0) scale(1.01 1.06)" text-anchor="end" fill="#000" font-size="14">371</text>
<text class="n" transform="translate(1849.8 530.0) scale(0.95 1.06)" text-anchor="end" fill="#000" font-size="14">101%</text>
<text class="c" x="1579" y="553.0" fill="#000" font-size="14">25日線</text>
<text class="c" x="1648" y="553.0" fill="#000" font-size="14">下げ気味</text>
<text class="n" transform="translate(1849.8 554.0) scale(0.95 1.06)" text-anchor="end" fill="#000" font-size="14">99%</text>
<g shape-rendering="crispEdges">
<rect x="-9" y="-1" width="341" height="165" fill="#fff"/>
<rect x="-8.5" y="-0.5" width="340" height="164" fill="none" stroke="#d9d9d9" stroke-width="1"/>
<rect x="28" y="7" width="290" height="1" fill="#d9d9d9"/>
<rect x="28" y="68" width="290" height="1" fill="#d9d9d9"/>
<rect x="28" y="130" width="290" height="1" fill="#d9d9d9"/>
<rect x="28" y="130" width="1" height="5" fill="#d9d9d9"/>
<rect x="109" y="130" width="1" height="5" fill="#d9d9d9"/>
<rect x="194" y="130" width="1" height="5" fill="#d9d9d9"/>
<rect x="276" y="130" width="1" height="5" fill="#d9d9d9"/>
</g>
<text class="h" x="15.6" y="9.3" text-anchor="end" fill="#484848" font-size="11.3">250</text>
<text class="h" x="15.6" y="71.8" text-anchor="end" fill="#484848" font-size="11.3">200</text>
<text class="h" x="15.6" y="133.4" text-anchor="end" fill="#484848" font-size="11.3">150</text>
<text class="h" x="29.8" y="150.6" text-anchor="middle" fill="#484848" font-size="11.3">4月23日</text>
<text class="h" x="110.8" y="150.6" text-anchor="middle" fill="#484848" font-size="11.3">5月23日</text>
<text class="h" x="195.8" y="150.6" text-anchor="middle" fill="#484848" font-size="11.3">6月23日</text>
<text class="h" x="277.8" y="150.6" text-anchor="middle" fill="#484848" font-size="11.3">7月23日</text>
<text class="t" x="34.3" y="30" fill="#5c5c5c" font-size="17">空運業</text>
<clipPath id="cp0"><rect x="25" y="6" width="294.5" height="125"/></clipPath>
<g clip-path="url(#cp0)" fill="none" stroke-width="3" stroke-linejoin="round" stroke-linecap="round">
<polyline stroke="#4472c4" points="29.2,73.7 36.7,74.0 43.3,72.8 53.3,72.0 64.2,71.7 67.5,68.7 76.7,70.0 84.2,80.3 90.0,77.8 95.0,75.3 100.0,71.2 105.0,77.3 111.7,72.8 118.3,70.7 124.2,57.0 135.0,56.7 138.7,47.0 145.0,45.3 151.7,46.2 158.0,34.0 161.7,34.0 163.3,35.7 170.8,35.0 176.7,46.2 179.7,46.7 182.5,56.2 190.0,54.0 193.7,47.3 196.3,49.5 198.3,56.2 202.5,55.3 209.2,56.7 214.2,63.3 219.2,58.3 228.3,52.8 231.7,45.3 236.7,55.3 240.0,53.3 247.5,54.0 251.7,57.0 254.2,62.0 259.2,64.5 266.7,72.0 272.5,77.8 275.0,73.3 283.3,70.3 288.3,62.8 295.8,71.2 303.3,72.8 307.5,79.5 310.0,77.8 313.7,82.3 315.8,78.7"/>
<polyline stroke="#ed7d31" points="29.2,89.5 36.7,84.0 43.3,77.0 53.3,75.0 64.2,73.3 70.0,72.0 77.5,71.7 82.5,72.8 87.5,75.7 94.2,77.3 103.3,74.5 113.3,73.3 119.2,72.3 124.2,64.5 133.3,61.2 138.3,54.5 145.0,49.5 152.5,47.0 158.3,42.0 164.2,38.3 174.2,36.2 183.3,45.3 191.7,49.0 200.0,52.8 209.2,52.3 214.2,57.8 220.0,59.0 228.3,57.8 234.2,52.0 241.7,52.0 248.3,52.3 255.0,57.0 261.7,60.7 268.3,64.5 275.0,70.3 285.0,71.7 295.8,67.3 304.2,68.7 310.0,73.7 315.8,78.7"/>
<polyline stroke="#a5a5a5" points="29.2,72.5 36.7,73.3 41.7,75.0 53.3,69.5 64.2,65.7 75.0,65.7 84.2,67.0 95.0,68.3 116.7,68.3 123.3,65.7 133.3,64.5 144.2,57.3 154.2,55.8 156.7,62.0 161.7,60.7 173.3,58.7 178.3,56.2 188.3,53.7 198.3,50.3 208.3,49.0 230.0,49.0 248.3,49.0 260.0,52.8 273.3,55.8 286.7,57.8 296.7,61.7 306.7,62.0 315.8,65.7"/>
<polyline stroke="#ffc000" points="157.5,66.7 160.3,61.7 170.0,60.7 178.3,60.7 183.3,61.7 195.0,61.7 201.7,60.3 230.0,60.3 241.7,58.3 253.3,57.8 266.7,56.7 280.0,56.2 288.3,55.3 294.2,55.3 296.7,59.5 315.8,59.5"/>
</g>
<g shape-rendering="crispEdges">
<rect x="613" y="0" width="341" height="165" fill="#fff"/>
<rect x="613.5" y="0.5" width="340" height="164" fill="none" stroke="#d9d9d9" stroke-width="1"/>
<rect x="649" y="9" width="290" height="1" fill="#d9d9d9"/>
<rect x="649" y="52" width="290" height="1" fill="#d9d9d9"/>
<rect x="649" y="94" width="290" height="1" fill="#d9d9d9"/>
<rect x="649" y="136" width="290" height="1" fill="#d9d9d9"/>
<rect x="649" y="136" width="1" height="5" fill="#d9d9d9"/>
<rect x="731" y="136" width="1" height="5" fill="#d9d9d9"/>
<rect x="816" y="136" width="1" height="5" fill="#d9d9d9"/>
<rect x="898" y="136" width="1" height="5" fill="#d9d9d9"/>
</g>
<text class="h" x="636.6" y="12.8" text-anchor="end" fill="#484848" font-size="11.3">600</text>
<text class="h" x="636.6" y="55.8" text-anchor="end" fill="#484848" font-size="11.3">500</text>
<text class="h" x="636.6" y="97.8" text-anchor="end" fill="#484848" font-size="11.3">400</text>
<text class="h" x="636.6" y="139.8" text-anchor="end" fill="#484848" font-size="11.3">300</text>
<text class="h" x="650.8" y="157.6" text-anchor="middle" fill="#484848" font-size="11.3">4月23日</text>
<text class="h" x="732.8" y="157.6" text-anchor="middle" fill="#484848" font-size="11.3">5月23日</text>
<text class="h" x="817.8" y="157.6" text-anchor="middle" fill="#484848" font-size="11.3">6月23日</text>
<text class="h" x="899.8" y="157.6" text-anchor="middle" fill="#484848" font-size="11.3">7月23日</text>
<text class="t" x="653.3" y="31" fill="#5c5c5c" font-size="17">鉄鋼</text>
<clipPath id="cp1"><rect x="646" y="8" width="294.5" height="129"/></clipPath>
<g clip-path="url(#cp1)" fill="none" stroke-width="3" stroke-linejoin="round" stroke-linecap="round">
<polyline stroke="#4472c4" points="649.5,79.8 659.2,78.7 660.8,80.3 665.0,74.0 685.8,63.7 690.0,54.5 697.5,45.0 699.7,46.7 702.5,55.3 708.3,59.0 716.7,61.2 719.7,54.0 722.5,57.8 725.0,65.7 735.0,64.0 738.3,61.2 740.8,63.3 743.7,71.2 746.7,65.7 753.3,67.3 758.0,72.0 765.0,68.3 770.0,73.7 773.8,77.8 777.5,76.2 780.0,77.0 783.3,73.7 795.0,76.2 800.0,77.0 804.2,84.5 812.5,88.3 815.8,82.8 820.0,85.3 824.2,78.7 830.0,76.7 834.2,79.5 841.7,80.0 850.8,84.0 853.3,82.8 858.3,87.3 861.7,87.3 870.0,83.7 875.0,84.0 880.0,84.5 888.3,86.7 895.0,89.5 898.3,89.0 905.0,84.5 910.0,79.5 916.7,78.7 923.3,75.7 926.7,71.2 930.8,72.3 935.3,67.0 938.3,69.0"/>
<polyline stroke="#ed7d31" points="649.5,80.7 661.7,79.5 673.3,77.3 685.8,75.3 690.0,70.3 697.5,63.7 702.5,52.3 705.8,51.2 715.0,54.5 726.7,61.2 735.8,61.7 743.3,65.7 750.0,65.7 758.3,69.5 765.0,70.0 773.3,71.7 781.7,74.5 790.0,75.7 800.0,75.7 804.2,78.3 812.5,80.7 816.7,84.5 820.8,85.3 836.7,79.5 843.3,80.3 851.7,81.2 861.7,85.3 875.0,85.3 880.0,84.0 888.3,85.0 895.0,86.2 905.0,85.3 911.7,85.0 918.3,80.3 928.3,77.0 935.0,72.0 938.3,70.0"/>
<polyline stroke="#a5a5a5" points="649.5,81.7 661.7,81.5 665.0,80.3 685.8,80.3 689.2,78.3 697.5,77.0 702.5,74.0 708.3,72.0 716.7,70.7 724.2,67.8 740.0,66.7 756.7,65.7 763.3,64.0 773.3,64.0 778.3,62.8 785.0,65.3 793.3,66.7 804.2,70.3 813.3,71.7 821.7,74.5 831.7,75.7 840.0,76.7 850.0,77.3 860.0,80.3 870.0,80.3 880.0,81.7 893.3,82.3 896.7,83.7 913.3,83.7 916.7,82.3 926.7,82.3 930.0,81.2 935.0,81.2 938.3,80.0"/>
<polyline stroke="#ffc000" points="778.3,74.5 790.0,73.3 880.0,73.3 888.3,74.5 926.7,74.5 938.3,75.7"/>
</g>
<g shape-rendering="crispEdges">
<rect x="1233" y="0" width="341" height="165" fill="#fff"/>
<rect x="1233.5" y="0.5" width="340" height="164" fill="none" stroke="#d9d9d9" stroke-width="1"/>
<rect x="1275" y="9" width="285" height="1" fill="#d9d9d9"/>
<rect x="1275" y="41" width="285" height="1" fill="#d9d9d9"/>
<rect x="1275" y="73" width="285" height="1" fill="#d9d9d9"/>
<rect x="1275" y="104" width="285" height="1" fill="#d9d9d9"/>
<rect x="1275" y="136" width="285" height="1" fill="#d9d9d9"/>
<rect x="1275" y="136" width="1" height="5" fill="#d9d9d9"/>
<rect x="1355" y="136" width="1" height="5" fill="#d9d9d9"/>
<rect x="1438" y="136" width="1" height="5" fill="#d9d9d9"/>
<rect x="1518" y="136" width="1" height="5" fill="#d9d9d9"/>
</g>
<text class="h" x="1262.6" y="12.8" text-anchor="end" fill="#484848" font-size="11.3">4200</text>
<text class="h" x="1262.6" y="44.8" text-anchor="end" fill="#484848" font-size="11.3">3700</text>
<text class="h" x="1262.6" y="76.8" text-anchor="end" fill="#484848" font-size="11.3">3200</text>
<text class="h" x="1262.6" y="107.8" text-anchor="end" fill="#484848" font-size="11.3">2700</text>
<text class="h" x="1262.6" y="139.8" text-anchor="end" fill="#484848" font-size="11.3">2200</text>
<text class="h" x="1276.8" y="157.6" text-anchor="middle" fill="#484848" font-size="11.3">4月23日</text>
<text class="h" x="1356.8" y="157.6" text-anchor="middle" fill="#484848" font-size="11.3">5月23日</text>
<text class="h" x="1439.8" y="157.6" text-anchor="middle" fill="#484848" font-size="11.3">6月23日</text>
<text class="h" x="1519.8" y="157.6" text-anchor="middle" fill="#484848" font-size="11.3">7月23日</text>
<text class="t" x="1276.3" y="31" fill="#5c5c5c" font-size="17">ゴム製品</text>
<clipPath id="cp2"><rect x="1272" y="8" width="289.5" height="129"/></clipPath>
<g clip-path="url(#cp2)" fill="none" stroke-width="3" stroke-linejoin="round" stroke-linecap="round">
<polyline stroke="#4472c4" points="1275.7,72.3 1282.8,74.0 1287.0,72.0 1289.5,76.2 1302.0,72.3 1312.0,69.5 1321.7,66.2 1324.5,68.7 1331.2,65.7 1340.3,64.5 1343.7,60.3 1348.3,56.2 1352.0,60.0 1360.3,60.0 1367.0,61.2 1370.3,55.3 1380.3,58.3 1386.2,49.0 1390.3,50.3 1398.7,50.3 1408.7,52.3 1417.8,48.3 1421.2,42.8 1427.0,45.3 1432.0,50.7 1434.5,54.5 1437.8,43.3 1442.8,44.5 1446.2,42.0 1453.7,41.7 1457.0,47.0 1462.0,46.2 1464.5,42.3 1473.7,44.5 1477.0,48.7 1480.3,49.5 1482.8,52.3 1492.0,51.2 1495.3,55.3 1498.3,61.2 1503.7,61.7 1514.5,64.5 1518.7,61.7 1527.0,59.5 1532.0,57.0 1537.0,57.3 1545.3,56.2 1550.3,59.0 1555.3,57.0 1558.3,62.0"/>
<polyline stroke="#ed7d31" points="1275.7,74.5 1287.0,73.7 1302.0,73.3 1312.0,72.0 1322.0,71.2 1328.7,67.8 1335.3,67.0 1342.8,65.7 1347.0,63.7 1352.0,59.5 1360.3,58.3 1367.0,58.7 1372.0,58.3 1381.2,58.3 1386.2,54.0 1390.3,52.8 1395.3,52.3 1399.5,50.7 1404.5,50.3 1408.7,51.7 1417.0,51.2 1422.0,49.5 1426.2,46.2 1435.3,47.8 1438.7,46.2 1443.7,46.2 1453.7,42.8 1462.0,45.7 1470.3,45.3 1480.3,45.3 1485.3,48.7 1493.7,50.3 1498.7,54.5 1508.7,58.7 1517.0,62.3 1528.7,62.3 1535.3,59.0 1543.7,57.8 1550.3,58.7 1558.3,58.3"/>
<polyline stroke="#a5a5a5" points="1275.7,75.3 1287.0,74.5 1323.7,74.5 1330.3,72.8 1343.7,71.7 1352.0,69.0 1362.0,67.8 1370.3,66.2 1381.2,65.3 1388.7,62.3 1397.8,61.2 1405.3,58.7 1417.0,57.0 1426.2,53.7 1435.3,52.8 1443.7,51.2 1453.7,50.0 1462.0,48.3 1472.0,47.0 1495.3,47.3 1498.7,48.3 1510.3,48.3 1517.0,50.3 1527.0,50.3 1537.0,52.3 1552.0,54.0 1558.3,55.3"/>
<polyline stroke="#ffc000" points="1402.0,68.7 1407.0,67.8 1418.7,66.2 1433.7,65.7 1438.7,63.7 1445.3,62.0 1453.7,62.0 1462.0,60.3 1477.0,58.3 1492.0,57.0 1502.0,56.2 1518.7,56.2 1528.7,55.0 1545.3,54.5 1558.3,53.3"/>
</g>
<g shape-rendering="crispEdges">
<rect x="-9" y="187" width="342" height="165" fill="#fff"/>
<rect x="-8.5" y="187.5" width="341" height="164" fill="none" stroke="#d9d9d9" stroke-width="1"/>
<rect x="28" y="197" width="290" height="1" fill="#d9d9d9"/>
<rect x="28" y="237" width="290" height="1" fill="#d9d9d9"/>
<rect x="28" y="277" width="290" height="1" fill="#d9d9d9"/>
<rect x="28" y="317" width="290" height="1" fill="#d9d9d9"/>
<rect x="28" y="317" width="1" height="5" fill="#d9d9d9"/>
<rect x="110" y="317" width="1" height="5" fill="#d9d9d9"/>
<rect x="194" y="317" width="1" height="5" fill="#d9d9d9"/>
<rect x="276" y="317" width="1" height="5" fill="#d9d9d9"/>
</g>
<text class="h" x="15.6" y="200.8" text-anchor="end" fill="#484848" font-size="11.3">300</text>
<text class="h" x="15.6" y="240.8" text-anchor="end" fill="#484848" font-size="11.3">250</text>
<text class="h" x="15.6" y="280.8" text-anchor="end" fill="#484848" font-size="11.3">200</text>
<text class="h" x="15.6" y="320.8" text-anchor="end" fill="#484848" font-size="11.3">150</text>
<text class="h" x="29.8" y="338.6" text-anchor="middle" fill="#484848" font-size="11.3">4月23日</text>
<text class="h" x="111.8" y="338.6" text-anchor="middle" fill="#484848" font-size="11.3">5月23日</text>
<text class="h" x="195.8" y="338.6" text-anchor="middle" fill="#484848" font-size="11.3">6月23日</text>
<text class="h" x="277.8" y="338.6" text-anchor="middle" fill="#484848" font-size="11.3">7月23日</text>
<text class="t" x="43.3" y="225.5" fill="#5c5c5c" font-size="17">鉱業</text>
<clipPath id="cp3"><rect x="25" y="196" width="294.5" height="122"/></clipPath>
<g clip-path="url(#cp3)" fill="none" stroke-width="3" stroke-linejoin="round" stroke-linecap="round">
<polyline stroke="#4472c4" points="29.2,263.3 36.7,263.7 40.8,260.8 48.3,258.7 53.3,255.8 64.2,253.0 67.5,248.7 76.7,245.0 80.3,248.7 84.2,254.7 88.3,250.0 95.0,250.3 97.5,244.2 101.7,249.2 106.7,260.8 115.0,258.3 117.5,257.5 122.5,263.0 126.7,259.2 133.3,260.0 138.3,249.2 144.2,248.3 152.5,248.3 154.2,250.8 157.5,246.7 160.8,246.7 163.3,250.3 172.5,250.3 179.2,240.0 182.5,248.3 191.7,249.7 194.2,244.2 197.5,241.7 201.7,233.3 209.2,235.8 213.3,245.8 217.5,244.2 220.0,240.3 228.3,241.3 231.7,239.2 235.0,245.0 237.5,254.2 241.7,250.0 248.3,248.7 251.7,242.5 256.7,247.5 260.0,250.8 266.7,254.2 273.3,262.5 276.7,262.5 286.7,259.2 290.0,256.3 295.0,256.7 305.0,254.2 308.3,259.2 311.7,255.0 314.2,256.7 317.5,252.5"/>
<polyline stroke="#ed7d31" points="29.2,262.5 36.7,263.3 40.8,262.0 65.0,260.3 68.3,256.7 76.7,253.0 81.3,248.3 86.7,249.2 95.0,250.0 101.7,248.7 106.7,251.3 115.0,253.0 122.5,258.7 135.0,259.2 143.3,252.5 153.3,250.0 158.3,248.3 175.0,248.3 182.5,245.0 191.7,246.7 194.2,245.0 200.0,245.0 203.3,241.3 209.2,238.3 215.8,239.2 220.0,242.5 228.3,243.3 235.0,242.5 240.0,247.5 246.7,248.3 253.3,247.5 260.0,247.0 270.0,248.7 275.0,255.0 283.3,256.7 292.5,259.2 300.0,257.0 310.0,255.8 317.5,256.3"/>
<polyline stroke="#a5a5a5" points="29.2,257.5 36.7,258.7 48.3,258.3 76.7,258.0 86.7,256.7 106.7,255.8 123.3,255.3 135.0,256.3 143.3,254.2 153.3,253.0 163.3,251.7 195.0,251.7 203.3,248.7 213.3,247.5 231.7,243.7 235.0,245.0 248.3,245.0 256.7,244.2 271.7,245.0 281.7,246.7 293.3,247.5 306.7,249.2 313.3,250.8 317.5,252.0"/>
<polyline stroke="#ffc000" points="158.0,254.2 195.0,254.2 203.3,253.0 228.3,252.5 236.7,251.3 253.3,250.3 266.7,250.0 286.7,249.7 293.3,248.7 306.7,248.7 311.7,250.0 317.5,250.0"/>
</g>
<g shape-rendering="crispEdges">
<rect x="612" y="187" width="342" height="164" fill="#fff"/>
<rect x="612.5" y="187.5" width="341" height="163" fill="none" stroke="#d9d9d9" stroke-width="1"/>
<rect x="650" y="194" width="300" height="1" fill="#d9d9d9"/>
<rect x="650" y="225" width="300" height="1" fill="#d9d9d9"/>
<rect x="650" y="257" width="300" height="1" fill="#d9d9d9"/>
<rect x="650" y="289" width="300" height="1" fill="#d9d9d9"/>
<rect x="650" y="321" width="300" height="1" fill="#d9d9d9"/>
<rect x="650" y="321" width="1" height="5" fill="#d9d9d9"/>
<rect x="735" y="321" width="1" height="5" fill="#d9d9d9"/>
<rect x="823" y="321" width="1" height="5" fill="#d9d9d9"/>
<rect x="908" y="321" width="1" height="5" fill="#d9d9d9"/>
</g>
<text class="h" x="638.6" y="197.8" text-anchor="end" fill="#484848" font-size="11.3">2200</text>
<text class="h" x="638.6" y="228.8" text-anchor="end" fill="#484848" font-size="11.3">2100</text>
<text class="h" x="638.6" y="260.8" text-anchor="end" fill="#484848" font-size="11.3">2000</text>
<text class="h" x="638.6" y="292.8" text-anchor="end" fill="#484848" font-size="11.3">1900</text>
<text class="h" x="638.6" y="324.8" text-anchor="end" fill="#484848" font-size="11.3">1800</text>
<text class="h" x="651.8" y="341.6" text-anchor="middle" fill="#484848" font-size="11.3">4月23日</text>
<text class="h" x="736.8" y="341.6" text-anchor="middle" fill="#484848" font-size="11.3">5月23日</text>
<text class="h" x="824.8" y="341.6" text-anchor="middle" fill="#484848" font-size="11.3">6月23日</text>
<text class="h" x="909.8" y="341.6" text-anchor="middle" fill="#484848" font-size="11.3">7月23日</text>
<text class="t" x="655.8" y="313.6" fill="#5c5c5c" font-size="17">陸運業</text>
<clipPath id="cp4"><rect x="647" y="193" width="304.5" height="129"/></clipPath>
<g clip-path="url(#cp4)" fill="none" stroke-width="3" stroke-linejoin="round" stroke-linecap="round">
<polyline stroke="#4472c4" points="651.8,272.0 660.2,277.3 663.5,288.3 666.8,278.7 688.5,267.8 691.8,270.3 700.2,263.7 703.5,277.0 706.3,287.0 708.0,301.7 709.3,301.7 711.3,285.8 720.2,282.3 723.5,274.5 727.7,283.7 731.8,291.2 741.8,287.0 745.7,281.2 748.5,285.3 751.3,269.5 760.2,278.7 763.5,268.7 764.7,253.7 768.5,242.0 779.3,241.2 785.2,227.8 788.5,227.0 791.8,234.5 799.3,235.3 803.5,232.0 807.7,239.5 810.2,252.0 812.7,256.2 819.3,262.3 822.7,241.2 827.7,257.0 830.2,251.2 839.3,252.0 843.5,260.0 847.7,262.0 851.8,256.7 857.7,253.7 861.8,247.8 867.7,256.2 871.0,252.8 876.8,250.7 882.7,254.5 886.0,260.3 887.7,267.8 891.0,274.5 897.7,280.3 904.3,289.0 908.5,282.8 917.7,277.0 921.8,266.2 926.0,281.2 929.3,294.2 937.7,290.0 941.8,297.5 950.2,302.0"/>
<polyline stroke="#ed7d31" points="651.8,289.5 662.7,285.3 666.8,280.3 692.7,276.2 699.3,273.7 703.5,271.7 706.8,273.7 709.3,280.3 712.7,283.7 721.0,287.0 727.7,283.7 732.7,284.0 741.0,285.3 744.3,287.0 748.5,287.3 752.7,281.2 759.3,280.0 763.5,277.0 766.0,271.2 768.5,263.7 771.8,257.8 779.3,251.2 782.7,242.0 788.5,233.7 802.7,232.0 806.8,234.5 811.0,239.5 821.0,246.2 826.8,252.0 839.3,249.5 843.5,254.5 851.8,258.3 858.5,258.3 864.3,254.5 876.0,250.7 884.3,252.3 890.2,259.5 899.3,267.3 904.3,273.7 908.5,279.5 918.5,281.2 926.0,277.8 937.7,281.7 944.3,295.0 950.2,298.3"/>
<polyline stroke="#a5a5a5" points="651.8,263.3 659.3,265.3 666.0,268.7 687.7,270.7 692.7,272.8 702.7,274.0 711.0,278.7 719.3,279.5 731.0,282.8 739.3,282.8 746.0,283.7 759.3,282.3 767.7,279.0 779.3,275.7 789.3,270.0 799.3,267.8 807.7,260.7 819.3,258.3 829.3,253.3 839.3,251.2 847.7,247.8 856.0,247.3 861.8,246.2 867.7,246.2 872.7,247.3 879.3,247.3 886.0,249.5 891.0,252.0 899.3,254.5 907.7,258.3 916.0,259.0 924.3,260.7 929.3,264.5 937.7,265.7 946.0,271.2 950.2,272.8"/>
<polyline stroke="#ffc000" points="785.2,261.2 791.0,262.3 801.0,262.3 807.7,264.5 821.0,265.3 831.0,266.2 862.7,266.2 869.3,265.0 879.3,265.0 886.0,264.0 902.7,263.3 937.7,263.3 946.0,265.0 950.2,265.3"/>
</g>
<g shape-rendering="crispEdges">
<rect x="1233" y="188" width="341" height="163" fill="#fff"/>
<rect x="1233.5" y="188.5" width="340" height="162" fill="none" stroke="#d9d9d9" stroke-width="1"/>
<rect x="1275" y="196" width="285" height="1" fill="#d9d9d9"/>
<rect x="1275" y="228" width="285" height="1" fill="#d9d9d9"/>
<rect x="1275" y="259" width="285" height="1" fill="#d9d9d9"/>
<rect x="1275" y="291" width="285" height="1" fill="#d9d9d9"/>
<rect x="1275" y="323" width="285" height="1" fill="#d9d9d9"/>
<rect x="1275" y="323" width="1" height="5" fill="#d9d9d9"/>
<rect x="1355" y="323" width="1" height="5" fill="#d9d9d9"/>
<rect x="1438" y="323" width="1" height="5" fill="#d9d9d9"/>
<rect x="1518" y="323" width="1" height="5" fill="#d9d9d9"/>
</g>
<text class="h" x="1262.6" y="200.3" text-anchor="end" fill="#484848" font-size="11.3">1650</text>
<text class="h" x="1262.6" y="232.3" text-anchor="end" fill="#484848" font-size="11.3">1550</text>
<text class="h" x="1262.6" y="263.3" text-anchor="end" fill="#484848" font-size="11.3">1450</text>
<text class="h" x="1262.6" y="295.3" text-anchor="end" fill="#484848" font-size="11.3">1350</text>
<text class="h" x="1262.6" y="327.3" text-anchor="end" fill="#484848" font-size="11.3">1250</text>
<text class="h" x="1276.8" y="343.6" text-anchor="middle" fill="#484848" font-size="11.3">4月23日</text>
<text class="h" x="1356.8" y="343.6" text-anchor="middle" fill="#484848" font-size="11.3">5月23日</text>
<text class="h" x="1439.8" y="343.6" text-anchor="middle" fill="#484848" font-size="11.3">6月23日</text>
<text class="h" x="1519.8" y="343.6" text-anchor="middle" fill="#484848" font-size="11.3">7月23日</text>
<text class="t" x="1276.3" y="218.8" fill="#5c5c5c" font-size="17">不動産業</text>
<clipPath id="cp5"><rect x="1272" y="195" width="289.5" height="129"/></clipPath>
<g clip-path="url(#cp5)" fill="none" stroke-width="3" stroke-linejoin="round" stroke-linecap="round">
<polyline stroke="#4472c4" points="1275.7,265.0 1284.5,272.8 1287.8,267.0 1292.0,267.8 1311.2,260.3 1315.3,253.7 1322.3,247.0 1326.2,270.3 1330.3,275.3 1340.3,264.0 1343.3,253.3 1347.0,257.8 1348.7,256.2 1358.7,254.5 1362.0,256.2 1366.2,254.5 1370.3,246.2 1378.7,257.0 1382.0,253.7 1383.7,237.8 1386.2,235.3 1389.5,238.7 1397.8,236.7 1402.0,217.3 1405.3,219.0 1408.7,226.7 1415.3,226.7 1418.7,221.2 1423.7,222.3 1427.0,232.8 1434.5,245.3 1437.3,225.0 1442.0,238.7 1445.3,237.0 1453.7,237.8 1457.0,245.3 1461.2,250.7 1463.7,242.8 1472.8,242.0 1477.0,244.5 1482.8,255.0 1488.7,248.7 1493.3,239.5 1498.7,247.8 1507.8,254.5 1514.5,266.7 1518.7,264.5 1528.7,260.7 1531.5,253.3 1535.3,257.8 1539.5,264.5 1547.0,257.0 1549.5,261.2 1556.2,263.7 1558.3,261.2"/>
<polyline stroke="#ed7d31" points="1275.7,269.5 1284.5,270.7 1287.8,268.7 1302.0,267.3 1311.2,266.2 1323.7,259.0 1328.7,259.5 1332.8,264.5 1340.3,268.3 1342.8,267.8 1347.0,264.0 1351.2,257.3 1358.7,255.3 1362.0,256.2 1368.7,254.5 1372.0,252.8 1381.2,252.8 1386.2,247.0 1397.8,240.3 1403.7,231.2 1408.7,225.7 1415.3,224.5 1420.3,222.0 1423.7,222.8 1427.0,225.0 1437.0,229.0 1442.8,234.5 1453.7,232.8 1457.0,237.8 1462.8,243.7 1472.0,245.0 1480.3,245.3 1485.3,247.8 1495.3,246.2 1502.0,244.5 1510.3,247.0 1517.0,256.2 1527.0,257.8 1534.5,260.3 1547.0,258.3 1550.3,261.2 1558.3,261.2"/>
<polyline stroke="#a5a5a5" points="1275.7,250.3 1283.7,251.2 1290.3,253.3 1312.0,254.5 1322.0,255.3 1332.0,259.0 1340.3,260.3 1347.0,261.2 1365.3,261.2 1368.7,262.0 1378.7,261.2 1388.7,257.3 1398.7,255.0 1405.3,250.7 1415.3,247.8 1418.7,247.0 1426.2,241.7 1435.3,240.3 1445.3,236.2 1462.0,235.7 1472.0,234.0 1477.0,234.0 1480.3,235.3 1493.7,236.7 1500.3,239.0 1510.3,240.3 1518.7,244.0 1528.7,245.0 1538.7,249.5 1548.7,250.7 1555.3,253.3 1558.3,253.7"/>
<polyline stroke="#ffc000" points="1401.7,250.7 1407.0,249.0 1435.3,249.0 1438.7,247.8 1512.0,247.8 1518.7,247.0 1535.3,247.0 1540.3,246.2 1547.0,246.2 1550.3,247.3 1558.3,247.3"/>
</g>
<g shape-rendering="crispEdges">
<rect x="-9" y="375" width="341" height="165" fill="#fff"/>
<rect x="-8.5" y="375.5" width="340" height="164" fill="none" stroke="#d9d9d9" stroke-width="1"/>
<rect x="32" y="421" width="284" height="1" fill="#d9d9d9"/>
<rect x="32" y="466" width="284" height="1" fill="#d9d9d9"/>
<rect x="32" y="511" width="284" height="1" fill="#d9d9d9"/>
<rect x="32" y="511" width="1" height="5" fill="#d9d9d9"/>
<rect x="112" y="511" width="1" height="5" fill="#d9d9d9"/>
<rect x="195" y="511" width="1" height="5" fill="#d9d9d9"/>
<rect x="277" y="511" width="1" height="5" fill="#d9d9d9"/>
</g>
<text class="h" x="19.6" y="424.8" text-anchor="end" fill="#484848" font-size="11.3">1000</text>
<text class="h" x="19.6" y="469.8" text-anchor="end" fill="#484848" font-size="11.3">950</text>
<text class="h" x="19.6" y="515.4" text-anchor="end" fill="#484848" font-size="11.3">900</text>
<text class="h" x="33.8" y="532.6" text-anchor="middle" fill="#484848" font-size="11.3">4月23日</text>
<text class="h" x="113.8" y="532.6" text-anchor="middle" fill="#484848" font-size="11.3">5月23日</text>
<text class="h" x="196.8" y="532.6" text-anchor="middle" fill="#484848" font-size="11.3">6月23日</text>
<text class="h" x="278.8" y="532.6" text-anchor="middle" fill="#484848" font-size="11.3">7月23日</text>
<text class="t" x="39.3" y="505" fill="#5c5c5c" font-size="17">保険業</text>
<clipPath id="cp6"><rect x="29" y="385" width="288.5" height="127"/></clipPath>
<g clip-path="url(#cp6)" fill="none" stroke-width="3" stroke-linejoin="round" stroke-linecap="round">
<polyline stroke="#4472c4" points="33.7,451.8 42.5,453.5 44.5,445.2 47.5,453.5 70.0,436.8 71.7,416.8 79.7,410.7 82.5,426.8 86.7,425.2 90.0,405.2 98.3,407.3 100.0,382.7 102.5,369.3 105.0,382.7 108.3,405.2 115.8,393.5 120.0,401.0 124.2,413.5 127.5,391.0 136.7,401.0 143.7,384.3 147.5,376.0 152.5,376.0 155.3,385.2 160.0,402.7 162.5,408.5 164.7,416.0 175.8,416.0 178.3,413.5 180.3,404.3 183.3,436.0 191.7,466.0 194.5,438.5 199.2,445.2 201.7,438.5 210.0,433.5 213.3,445.2 217.5,441.8 221.7,427.7 228.3,435.2 231.3,430.2 234.2,448.5 239.7,454.3 247.0,439.3 250.0,421.0 253.3,419.3 255.8,428.5 266.7,436.0 271.7,443.5 275.0,432.7 285.0,424.7 287.5,413.5 293.3,416.8 295.8,424.7 303.3,401.3 307.0,411.8 310.8,401.0 314.7,400.2"/>
<polyline stroke="#ed7d31" points="33.7,450.2 42.5,452.7 45.0,449.7 50.8,450.7 68.3,448.0 72.5,440.2 81.7,430.2 85.8,423.5 90.0,419.7 98.3,418.5 101.7,403.5 105.8,392.7 115.8,389.3 120.0,394.3 125.0,402.7 128.3,400.2 138.3,401.3 143.3,392.3 153.3,386.8 156.7,386.3 160.0,390.2 163.3,396.8 165.0,401.8 171.7,406.8 176.7,412.3 180.8,413.5 184.2,418.5 191.7,426.8 196.7,436.0 199.2,445.2 202.5,446.3 210.0,439.3 214.2,441.8 221.7,437.3 229.2,438.5 231.7,435.2 236.7,439.0 240.0,444.3 247.5,445.2 250.8,442.7 258.3,427.7 265.8,426.3 275.0,433.5 285.0,433.5 290.0,426.8 297.5,417.3 303.3,413.5 308.3,412.7 314.7,405.2"/>
<polyline stroke="#a5a5a5" points="33.7,429.3 40.0,431.0 47.5,433.5 63.3,435.2 73.3,435.7 90.0,435.2 98.3,434.3 108.3,426.8 116.7,425.2 120.0,423.5 124.2,422.7 127.5,420.7 135.0,419.7 146.7,408.5 155.0,405.7 159.2,401.8 165.0,400.7 175.8,400.7 180.0,398.5 184.2,400.2 191.7,402.7 199.2,409.3 210.0,412.7 221.7,418.0 230.0,419.7 240.0,429.0 250.0,431.8 256.7,434.0 266.7,435.2 273.3,437.3 285.0,438.5 293.3,434.7 303.3,431.8 310.0,429.3 314.7,426.3"/>
<polyline stroke="#ffc000" points="159.2,416.3 163.3,415.7 176.7,416.0 186.7,417.7 203.3,420.2 216.7,421.3 230.0,421.3 236.7,422.3 265.0,422.3 273.3,421.3 285.0,421.3 290.0,419.7 303.3,418.5 310.0,418.0 314.7,417.3"/>
</g>
<g shape-rendering="crispEdges">
<rect x="612" y="374" width="342" height="164" fill="#fff"/>
<rect x="612.5" y="374.5" width="341" height="163" fill="none" stroke="#d9d9d9" stroke-width="1"/>
<rect x="648" y="385" width="290" height="1" fill="#d9d9d9"/>
<rect x="648" y="426" width="290" height="1" fill="#d9d9d9"/>
<rect x="648" y="468" width="290" height="1" fill="#d9d9d9"/>
<rect x="648" y="509" width="290" height="1" fill="#d9d9d9"/>
<rect x="648" y="509" width="1" height="5" fill="#d9d9d9"/>
<rect x="731" y="509" width="1" height="5" fill="#d9d9d9"/>
<rect x="815" y="509" width="1" height="5" fill="#d9d9d9"/>
<rect x="897" y="509" width="1" height="5" fill="#d9d9d9"/>
</g>
<text class="h" x="635.6" y="389.2" text-anchor="end" fill="#484848" font-size="11.3">170</text>
<text class="h" x="635.6" y="430.2" text-anchor="end" fill="#484848" font-size="11.3">150</text>
<text class="h" x="635.6" y="472.2" text-anchor="end" fill="#484848" font-size="11.3">130</text>
<text class="h" x="635.6" y="513.4" text-anchor="end" fill="#484848" font-size="11.3">110</text>
<text class="h" x="649.8" y="530.6" text-anchor="middle" fill="#484848" font-size="11.3">4月23日</text>
<text class="h" x="732.8" y="530.6" text-anchor="middle" fill="#484848" font-size="11.3">5月23日</text>
<text class="h" x="816.8" y="530.6" text-anchor="middle" fill="#484848" font-size="11.3">6月23日</text>
<text class="h" x="898.8" y="530.6" text-anchor="middle" fill="#484848" font-size="11.3">7月23日</text>
<text class="t" x="659.3" y="495.5" fill="#5c5c5c" font-size="17">銀行業</text>
<clipPath id="cp7"><rect x="645" y="384" width="294.5" height="126"/></clipPath>
<g clip-path="url(#cp7)" fill="none" stroke-width="3" stroke-linejoin="round" stroke-linecap="round">
<polyline stroke="#4472c4" points="649.5,447.3 656.7,445.3 660.8,443.2 663.3,444.3 680.0,437.7 685.8,435.3 689.2,432.0 696.7,430.3 699.7,437.0 705.8,437.7 707.5,432.7 715.8,430.7 718.3,426.0 725.0,426.0 726.7,429.8 735.0,426.5 738.3,426.5 743.3,432.3 746.3,425.7 755.0,432.3 758.7,426.5 765.0,426.0 768.3,428.2 776.7,428.7 784.2,439.0 792.5,441.5 796.7,438.2 800.0,437.7 803.3,443.2 811.7,449.3 814.2,439.0 818.3,441.5 822.5,439.0 830.0,437.7 833.3,444.0 836.7,445.7 841.7,441.5 851.7,442.3 855.0,446.5 858.3,451.5 862.5,451.5 870.0,448.2 872.5,444.0 880.0,447.3 886.7,450.7 893.3,455.7 897.5,453.2 906.7,452.3 909.2,447.7 915.0,448.2 918.3,451.5 923.3,448.2 926.3,444.8 930.8,448.7 935.0,449.0 938.3,447.0"/>
<polyline stroke="#ed7d31" points="649.5,447.7 658.3,447.3 665.0,445.3 685.0,443.2 689.2,439.8 697.5,437.0 702.0,434.0 706.7,435.3 715.8,435.3 720.8,431.0 725.0,428.7 736.7,427.0 743.3,429.8 746.7,428.2 758.3,430.7 763.3,428.7 776.7,428.7 783.3,432.7 790.0,434.0 796.7,437.7 810.0,441.5 818.3,443.7 830.0,440.3 836.7,442.0 848.3,443.7 853.3,442.3 861.7,447.7 870.0,447.7 880.0,446.5 888.3,447.3 896.7,451.5 910.0,452.3 918.3,449.8 923.3,448.7 930.8,449.8 938.3,448.7"/>
<polyline stroke="#a5a5a5" points="649.5,433.2 656.7,434.3 665.0,437.0 685.0,437.7 693.3,438.7 703.3,439.8 716.7,439.8 723.3,438.7 733.3,437.7 743.3,436.0 755.0,435.3 763.3,432.7 773.3,431.0 778.3,429.8 790.0,430.3 800.0,431.0 815.0,432.3 820.0,434.0 830.0,434.3 840.0,437.0 850.0,437.7 860.0,440.7 870.0,441.5 878.3,443.2 888.3,443.7 896.7,445.7 906.7,445.7 913.3,446.5 926.7,446.5 931.7,447.7 938.3,448.7"/>
<polyline stroke="#ffc000" points="777.5,429.8 790.0,431.0 800.0,432.3 806.7,433.7 815.0,434.3 823.3,435.3 831.7,435.3 840.0,436.5 850.0,437.0 856.7,437.7 873.3,437.7 878.3,438.7 916.7,438.7 926.7,439.3 935.0,439.3 938.3,440.7"/>
</g>
<g shape-rendering="crispEdges">
<rect x="1231" y="374" width="343" height="166" fill="#fff"/>
<rect x="1231.5" y="374.5" width="342" height="165" fill="none" stroke="#d9d9d9" stroke-width="1"/>
<rect x="1268" y="383" width="291" height="1" fill="#d9d9d9"/>
<rect x="1268" y="426" width="291" height="1" fill="#d9d9d9"/>
<rect x="1268" y="469" width="291" height="1" fill="#d9d9d9"/>
<rect x="1268" y="511" width="291" height="1" fill="#d9d9d9"/>
<rect x="1268" y="511" width="1" height="5" fill="#d9d9d9"/>
<rect x="1350" y="511" width="1" height="5" fill="#d9d9d9"/>
<rect x="1435" y="511" width="1" height="5" fill="#d9d9d9"/>
<rect x="1517" y="511" width="1" height="5" fill="#d9d9d9"/>
</g>
<text class="h" x="1255.6" y="387.2" text-anchor="end" fill="#484848" font-size="11.3">450</text>
<text class="h" x="1255.6" y="429.8" text-anchor="end" fill="#484848" font-size="11.3">400</text>
<text class="h" x="1255.6" y="472.8" text-anchor="end" fill="#484848" font-size="11.3">350</text>
<text class="h" x="1255.6" y="515.4" text-anchor="end" fill="#484848" font-size="11.3">300</text>
<text class="h" x="1269.8" y="532.6" text-anchor="middle" fill="#484848" font-size="11.3">4月23日</text>
<text class="h" x="1351.8" y="532.6" text-anchor="middle" fill="#484848" font-size="11.3">5月23日</text>
<text class="h" x="1436.8" y="532.6" text-anchor="middle" fill="#484848" font-size="11.3">6月23日</text>
<text class="h" x="1518.8" y="532.6" text-anchor="middle" fill="#484848" font-size="11.3">7月23日</text>
<text class="t" x="1270.8" y="403.5" fill="#5c5c5c" font-size="17">証券・商品取引業</text>
<clipPath id="cp8"><rect x="1265" y="382" width="295.5" height="130"/></clipPath>
<g clip-path="url(#cp8)" fill="none" stroke-width="3" stroke-linejoin="round" stroke-linecap="round">
<polyline stroke="#4472c4" points="1269.5,432.0 1276.7,430.0 1281.7,422.5 1286.7,420.8 1305.0,417.0 1308.3,420.0 1316.7,417.5 1320.0,425.0 1324.7,433.3 1328.3,429.2 1335.8,429.7 1338.3,423.7 1345.0,422.5 1354.2,421.7 1357.5,415.3 1361.7,418.0 1365.3,415.0 1375.0,420.0 1379.2,415.0 1386.7,417.0 1396.7,416.7 1399.2,423.3 1405.0,427.5 1410.0,425.0 1415.0,426.7 1420.8,426.7 1424.2,433.0 1431.7,441.3 1434.7,433.3 1437.5,437.5 1442.5,435.8 1450.0,432.5 1455.0,437.5 1458.3,438.7 1464.2,437.5 1471.7,440.8 1478.3,453.0 1481.7,453.0 1487.5,448.3 1491.3,441.3 1496.7,448.3 1500.0,447.0 1506.7,448.7 1513.3,453.3 1526.7,450.0 1530.0,447.0 1533.3,450.8 1535.8,448.3 1538.3,451.3 1546.7,450.8 1550.8,452.5 1555.0,450.8 1558.3,447.0"/>
<polyline stroke="#ed7d31" points="1269.5,431.7 1278.3,431.3 1284.2,428.3 1305.0,425.3 1308.3,422.0 1318.3,420.0 1323.3,422.5 1326.7,426.7 1333.3,428.7 1338.3,429.2 1345.0,425.0 1354.2,422.0 1360.0,420.0 1365.0,417.0 1371.7,417.0 1378.3,418.7 1383.3,417.0 1396.7,416.7 1401.7,418.7 1411.7,424.2 1421.7,425.3 1435.0,431.7 1440.8,437.0 1444.2,437.0 1450.0,435.0 1456.7,436.7 1463.3,436.7 1471.7,439.2 1476.7,443.3 1481.7,448.3 1491.7,448.7 1500.0,445.8 1508.3,446.7 1516.7,450.8 1526.7,450.3 1535.0,449.2 1546.7,449.2 1551.7,451.7 1558.3,450.8"/>
<polyline stroke="#a5a5a5" points="1269.5,418.3 1276.7,420.0 1283.3,422.5 1305.0,423.7 1316.7,423.0 1323.3,424.2 1338.3,424.7 1353.3,425.0 1360.0,424.2 1375.0,424.2 1381.7,422.5 1396.7,420.8 1405.0,423.0 1418.3,423.0 1426.7,422.5 1435.0,423.0 1441.7,424.2 1453.3,425.0 1461.7,428.3 1471.7,429.2 1481.7,433.7 1490.0,435.3 1498.3,438.0 1508.3,439.2 1516.7,442.5 1530.0,443.7 1540.0,445.0 1548.3,445.3 1555.0,447.5 1558.3,448.0"/>
<polyline stroke="#ffc000" points="1397.5,417.0 1410.0,418.3 1416.7,419.2 1426.7,421.7 1435.0,422.5 1441.7,424.2 1451.7,424.2 1460.0,425.3 1470.0,425.3 1478.3,427.5 1493.3,428.7 1506.7,430.0 1518.3,430.3 1533.3,431.3 1546.7,433.0 1555.0,434.2 1558.3,435.8"/>
</g>
<rect x="0" y="0" width="1842" height="1" fill="#999" shape-rendering="crispEdges"/>
<rect x="1092" y="0" width="141" height="1" fill="#217346" shape-rendering="crispEdges"/>
<g shape-rendering="crispEdges">
<rect x="1092" y="209" width="141" height="2" fill="#217346"/>
<rect x="1092" y="233" width="141" height="2" fill="#217346"/>
<rect x="1092" y="209" width="2" height="26" fill="#217346"/>
<rect x="1231" y="209" width="2" height="26" fill="#217346"/>
<rect x="1228" y="230" width="5" height="7" fill="#fff"/>
<rect x="1229" y="231" width="4" height="5" fill="#217346"/>
</g>
</svg>
</body></html>
